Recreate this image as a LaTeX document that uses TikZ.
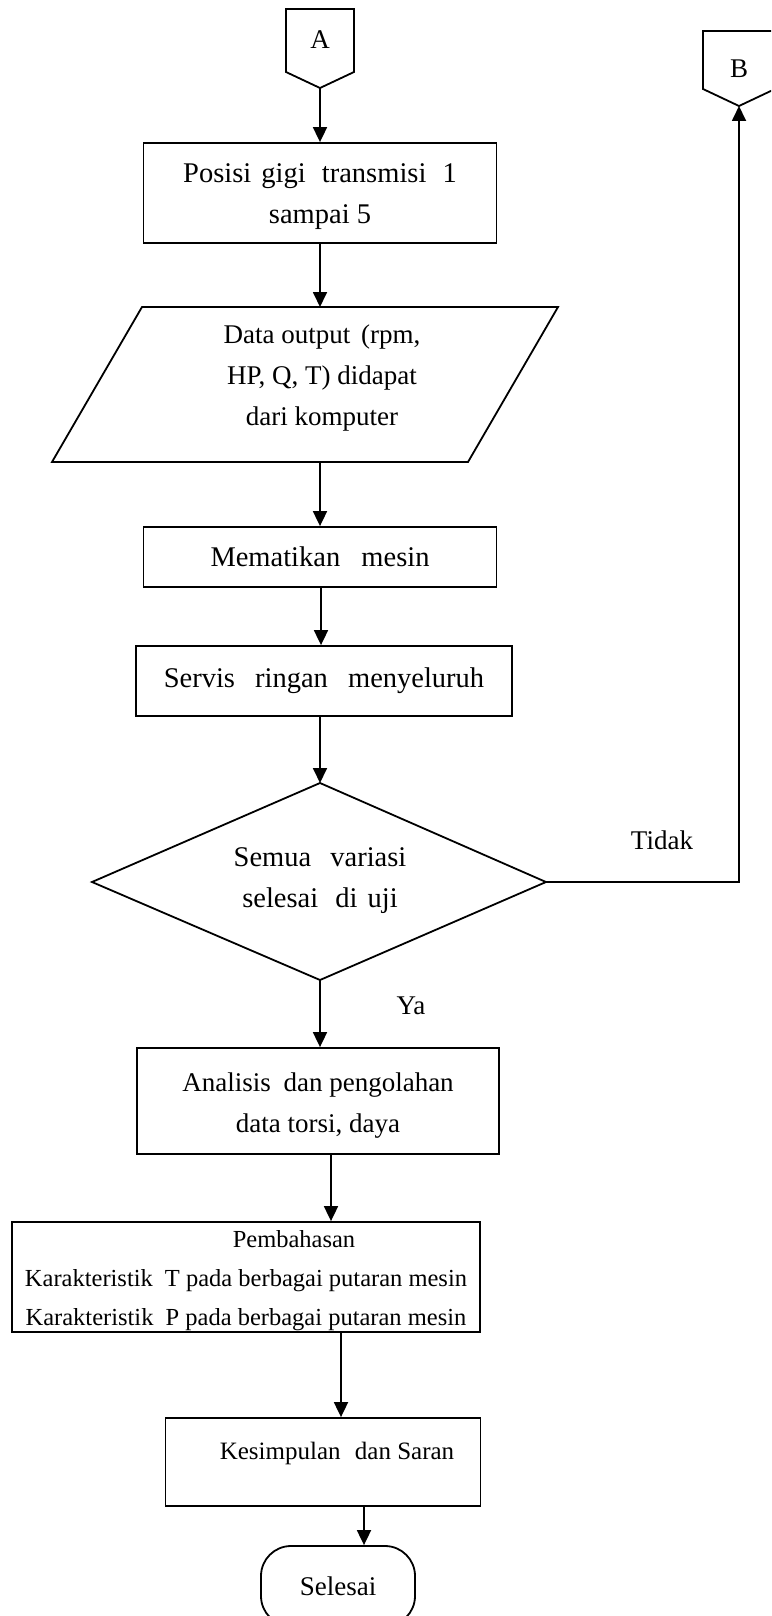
\documentclass[tikz,border=0pt]{standalone}
\usepackage{fontspec}
\setmainfont{Liberation Serif}
\usetikzlibrary{arrows.meta}

\tikzset{
  txt/.style={font=\fontsize{27}{41}\selectfont, align=center, inner sep=0pt},
  bigtxt/.style={txt, font=\fontsize{28.5}{41}\selectfont},
  stepbox/.style={draw, line width=1.8pt, rectangle, inner sep=0pt},
  arr/.style={line width=1.8pt, -{Triangle[length=15pt,width=14pt]}},
  outline/.style={line width=1.8pt, line join=miter},
}
\newcommand{\gap}[1]{\hspace{#1pt}}

\begin{document}
\begin{tikzpicture}[x=1pt,y=-1pt]
\useasboundingbox (0,0) rectangle (771,1616);
\clip (0,0) rectangle (771,1616);

% off-page connector A
\draw[outline] (286,9) -- (354,9) -- (354,72) -- (320,88) -- (286,72) -- cycle;
\node[txt] (A) at (320,40) {A};
\coordinate (Atip) at (320,88);

% gear position box
\node[stepbox, minimum width=353pt, minimum height=100pt] (gigi) at (320,193) {};
\node[bigtxt] (gigiText) at ([yshift=-4pt]gigi.center)
  {Posisi\gap{3} gigi\gap{9} transmisi\gap{9} 1\\sampai 5};

% input/output parallelogram
\draw[outline] (142,307) -- (558,307) -- (468,462) -- (52,462) -- cycle;
\node[txt] (data) at (322,378) {Data output\gap{4} (rpm,\\HP, Q, T) didapat\\dari komputer};
\coordinate (dataTop) at (320,307);
\coordinate (dataBot) at (320,462);

\node[stepbox, minimum width=353pt, minimum height=60pt] (mati) at (320,557) {};
\node[bigtxt] (matiText) at (mati.center) {Mematikan\gap{14} mesin};

\node[stepbox, minimum width=376pt, minimum height=70pt] (servis) at (324,681) {};
\node[bigtxt] (servisText) at (servis.center) {Servis\gap{13} ringan\gap{13} menyeluruh};

% decision
\coordinate (cekN) at (320,783);
\coordinate (cekE) at (546,882);
\coordinate (cekS) at (320,980);
\coordinate (cekW) at (92,882);
\draw[outline] (cekN) -- (cekE) -- (cekS) -- (cekW) -- cycle;
\node[bigtxt] (cek) at (320,881) {Semua\gap{12} variasi\\selesai\gap{10} di\gap{3} uji};

\node[stepbox, minimum width=362pt, minimum height=106pt] (analisis) at (318,1101) {};
\node[txt] (analisisText) at ([yshift=-5pt]analisis.center)
  {Analisis\gap{6} dan pengolahan\\data torsi, daya};

\node[stepbox, minimum width=468pt, minimum height=110pt] (bahas) at (246,1277) {};
\node[txt, font=\fontsize{24.5}{39}\selectfont] (bahasText) at ([yshift=-4pt]bahas.center)
  {\hspace*{96pt}Pembahasan\\
   Karakteristik\gap{6} T pada berbagai putaran mesin\\
   Karakteristik\gap{6} P pada berbagai putaran mesin};

\node[stepbox, minimum width=315pt, minimum height=88pt] (simpul) at (323,1462) {};
\node[txt, font=\fontsize{25}{41}\selectfont] (simpulText) at (337,1453)
  {Kesimpulan\gap{8} dan Saran};

% terminator
\node[txt, draw, line width=1.8pt, rounded corners=30pt,
      minimum width=154pt, minimum height=80pt] (selesai) at (338,1586) {Selesai};

% off-page connector B
\draw[outline] (703,31) -- (775,31) -- (775,89) -- (739,106) -- (703,89) -- cycle;
\node[txt] (B) at (739,69) {B};
\coordinate (Btip) at (739,106);

% branch labels
\node[txt] (tidak) at (662,840) {Tidak};
\node[txt] (ya) at (411,1006) {Ya};

% connectors
\draw[arr] (Atip) -- (gigi.north);
\draw[arr] (gigi.south) -- (dataTop);
\draw[arr] (dataBot) -- (mati.north);
\draw[arr] (mati.south -| 321,0) -- (servis.north -| 321,0);
\draw[arr] (servis.south -| 320,0) -- (cekN);
\draw[arr] (cekS) -- (analisis.north -| cekS);
\draw[arr] (analisis.south -| 331,0) -- (bahas.north -| 331,0);
\draw[arr] (bahas.south -| 341,0) -- (simpul.north -| 341,0);
\draw[arr] (simpul.south -| 364,0) -- (selesai.north -| 364,0);
\draw[arr] (cekE) -| (Btip);

\end{tikzpicture}
\end{document}
